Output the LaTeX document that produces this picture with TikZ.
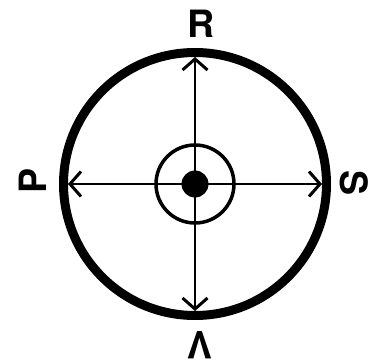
\documentclass[tikz,border=0pt]{standalone}
\usepackage{fontspec}
\setmainfont{TeX Gyre Heros}
\usepackage{tikz}
\usetikzlibrary{arrows.meta}

\begin{document}
\begin{tikzpicture}[
    x=1pt, y=-1pt,
    ring/.style={draw, circle, line width=9pt, minimum size=263pt, inner sep=0pt},
    hub/.style={draw, circle, line width=3.5pt, minimum size=78pt, inner sep=0pt},
    dot/.style={fill, circle, minimum size=27pt, inner sep=0pt},
    lbl/.style={font=\fontsize{37.6}{40}\selectfont\bfseries, inner sep=0pt},
    arr/.style={-{Straight Barb[length=11pt, width=25pt, line width=3pt]}, line width=2.2pt}
]
    \useasboundingbox (0,0) rectangle (370,364);
    \node[ring] (ring) at (195,184) {};
    \node[hub] (hub) at (195,184) {};
    \node[dot] (c) at (195,184) {};

    \coordinate (up) at (195,57);
    \coordinate (down) at (195,311);
    \coordinate (left) at (68,184);
    \coordinate (right) at (322,184);

    \draw[arr] (c.center) -- (up);
    \draw[arr] (c.center) -- (down);
    \draw[arr] (c.center) -- (left);
    \draw[arr] (c.center) -- (right);

    \node[lbl] (r) at (201,23.5) {R};
    \node[lbl, rotate=90] (p) at (33,180.5) {P};
    \node[lbl, rotate=-90] (s) at (354,183) {S};
    \node[lbl, rotate=180] (v) at (199.5,345) {V};
\end{tikzpicture}
\end{document}
